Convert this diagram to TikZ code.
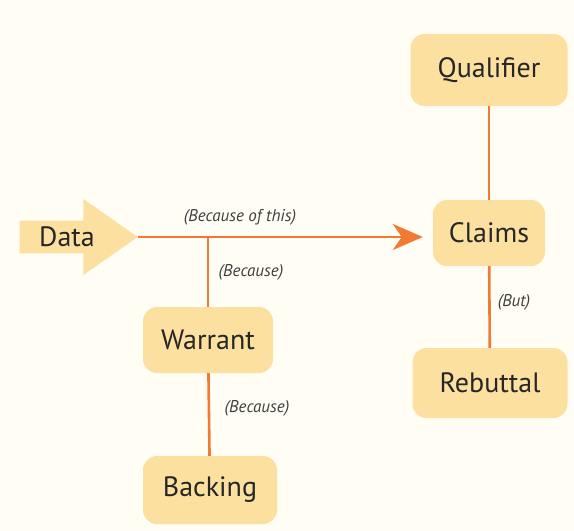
\documentclass[tikz,border=0pt]{standalone}
\usepackage{fontspec}
\setmainfont{PT Sans}
\usetikzlibrary{shapes.arrows,arrows.meta}
\definecolor{boxfill}{HTML}{FCE0A0}
\definecolor{linkcol}{HTML}{F27A34}
\definecolor{paper}{HTML}{FFFDF4}
\begin{document}
\begin{tikzpicture}[x=1pt, y=-1pt, line join=round, >={Stealth[length=30pt,width=26pt,inset=9pt]},
	box/.style={fill=boxfill, rounded corners=14pt, text=black!85, font=\fontsize{28}{32}\selectfont, minimum width=130pt, minimum height=66pt},
	link/.style={draw=linkcol, line width=2.6pt},
	lbl/.style={text=black!75, font=\fontsize{17}{20}\selectfont\itshape}]
	\fill[paper] (0,0) rectangle (574,531);
	\useasboundingbox (0,0) rectangle (574,531);
	% data arrow
	\node[single arrow, fill=boxfill, text=black!85, font=\fontsize{28}{32}\selectfont, minimum height=118pt, minimum width=76pt, single arrow head extend=15pt, single arrow tip angle=70, inner sep=1pt, anchor=tip] (data) at (138,237) {Data\hspace{22pt}};
	\node[box, minimum width=112pt, minimum height=66pt] (claims) at (489,233) {Claims};
	\node[box, minimum width=157pt, minimum height=72pt] (qualifier) at (489,70) {Qualifier};
	\node[box, minimum width=155pt, minimum height=70pt] (rebuttal) at (490,383) {Rebuttal};
	\node[box] (warrant) at (208,340) {Warrant};
	\node[box, minimum width=134pt, minimum height=68pt] (backing) at (210,490) {Backing};
	% links
	\draw[link,->] (data.tip) -- ([xshift=-10pt]data.tip -| claims.west);
	\draw[link] (warrant.north) -- (warrant.north |- data.tip);
	\foreach \a/\b in {qualifier/claims, claims/rebuttal, warrant/backing}
	\draw[link] (\a) -- (\b);
	% labels
	\node[lbl] (l1) at (240,217) {(Because of this)};
	\node[lbl] (l2) at (251,272) {(Because)};
	\node[lbl] (l3) at (257,408) {(Because)};
	\node[lbl] (l4) at (514,302) {(But)};
\end{tikzpicture}
\end{document}
